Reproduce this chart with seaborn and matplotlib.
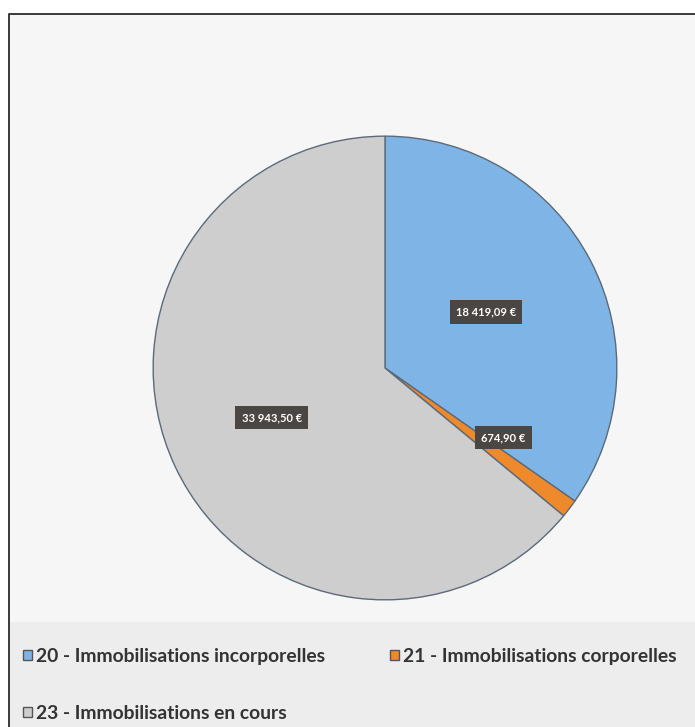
import matplotlib
matplotlib.use("Agg")
import matplotlib.pyplot as plt
import matplotlib.patches as mpatches
import numpy as np
import seaborn as sns

categories = ["20 - Immobilisations incorporelles",
              "21 - Immobilisations corporelles",
              "23 - Immobilisations en cours"]
values = [18419.09, 674.90, 33943.50]

sns.set_theme(style="white")
plt.rcParams['font.family'] = ['Lato', 'DejaVu Sans']

colors = ["#7fb5e6", "#ef8a2c", "#cfcece"]


def fr_money(v):
    s = f"{v:,.2f}"
    s = s.replace(",", " ").replace(".", ",")
    return s + " \u20ac"


W, H = 695, 727
fig = plt.figure(figsize=(W / 100, H / 100), dpi=100)
fig.patch.set_facecolor("white")

# frame + backgrounds, in pixel coords
bg = fig.add_axes([0, 0, 1, 1])
bg.set_xlim(0, W)
bg.set_ylim(H, 0)
bg.axis("off")
bg.add_patch(mpatches.Rectangle((9, 14), W, H, facecolor="#f6f6f7", edgecolor="none"))
bg.add_patch(mpatches.Rectangle((9, 622), W, H, facecolor="#ededed", edgecolor="none"))
bg.plot([9, 9, W], [H, 14, 14], color="#3a3a3a", lw=1.4)

cx, cy, R = 385, 368, 233
ax = fig.add_axes([(cx - R) / W, 1 - (cy + R) / H, 2 * R / W, 2 * R / H])
wedges, _ = ax.pie(values, colors=colors, startangle=90, counterclock=False,
                   wedgeprops=dict(edgecolor="#5c6a78", linewidth=1.0))
ax.set_xlim(-1.005, 1.005)
ax.set_ylim(-1.005, 1.005)
ax.set_aspect("equal")

label_r = [0.49, 0.60, 0.54]
for w, v, r in zip(wedges, values, label_r):
    ang = np.deg2rad((w.theta1 + w.theta2) / 2)
    if v < 1000:
        ang = np.deg2rad(w.theta1 + 8)
    ax.text(r * np.cos(ang), r * np.sin(ang) + 0.015, fr_money(v), ha="center", va="center",
            color="white", fontsize=8, fontweight="bold",
            bbox=dict(boxstyle="square,pad=0.55", facecolor="#4a4644", edgecolor="none"))

# legend in row order: 20, 21 / 23
order = [0, 2, 1]
handles = [mpatches.Patch(facecolor=colors[i], edgecolor="#555555", linewidth=1.0) for i in order]
labels = [categories[i] for i in order]
leg = fig.legend(handles, labels, loc="upper left", bbox_to_anchor=(23 / W, 1 - 648 / H),
                 ncol=2, frameon=False, handlelength=0.45, handleheight=0.45,
                 handletextpad=0.2, labelspacing=2.05, columnspacing=3.4, borderaxespad=0,
                 borderpad=0, prop=dict(family=['Lato', 'DejaVu Sans'], weight='bold', size=13.9))
for t in leg.get_texts():
    t.set_color("#333333")

fig.savefig("out.png", dpi=100)
